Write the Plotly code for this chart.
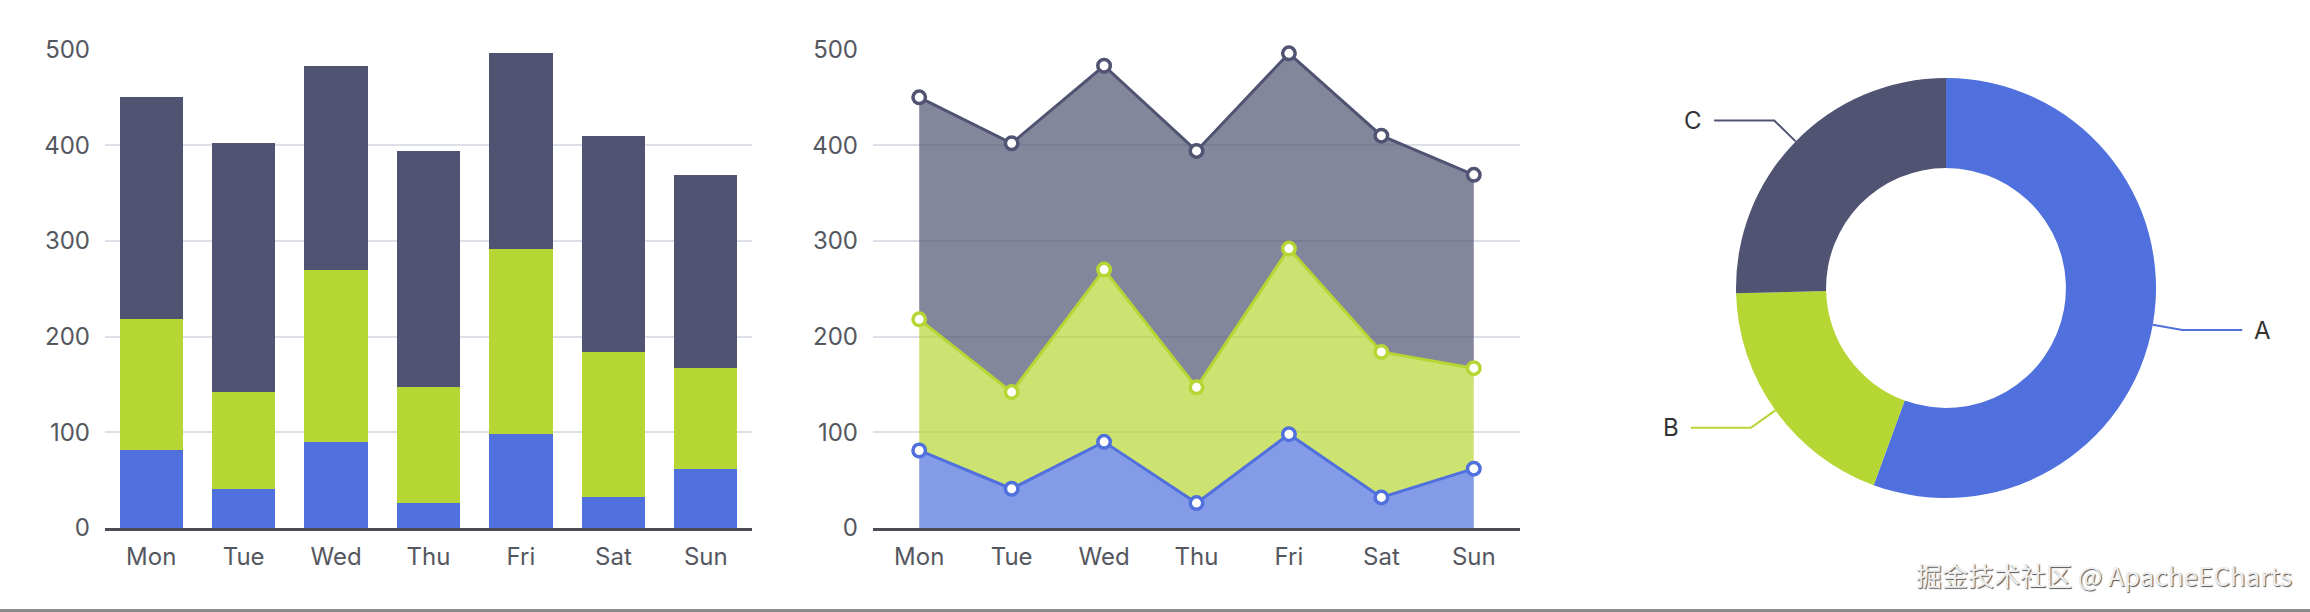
import math
import plotly.graph_objects as go

# ---------------- data ----------------
days = ["Mon", "Tue", "Wed", "Thu", "Fri", "Sat", "Sun"]
series_a = [81, 41, 90, 26, 98, 32, 62]
series_b = [137, 101, 180, 121, 194, 152, 105]
series_c = [232, 260, 213, 247, 204, 226, 202]
y_ticks = [0, 100, 200, 300, 400, 500]

pie_labels = ["A", "B", "C"]
pie_values = [556, 190, 254]

colors = ["#5070dd", "#b6d634", "#505372"]
area_fill = ["rgba(80,112,221,0.7)", "rgba(182,214,52,0.7)", "rgba(80,83,114,0.7)"]

W, H = 2310, 612

# layout geometry (pixels)
LEFT_X = (105, 752)
MID_X = (873, 1520)
Y_PX = (49.5, 528)          # top (500) , bottom (0)
PIE_C = (1946, 288)
PIE_R = 210
PIE_HOLE = 0.571

def px_x(x):
    return x / W

def px_y(y):
    return 1 - y / H

fig = go.Figure()

series = [("A", series_a), ("B", series_b), ("C", series_c)]

# stacked bars
for i, (name, vals) in enumerate(series):
    fig.add_trace(go.Bar(
        x=days, y=vals, name=name, xaxis="x", yaxis="y",
        marker=dict(color=colors[i], line=dict(width=0)),
        showlegend=False,
    ))

# stacked areas
for i, (name, vals) in enumerate(series):
    fig.add_trace(go.Scatter(
        x=days, y=vals, name=name, xaxis="x2", yaxis="y2",
        stackgroup="one", mode="lines+markers", cliponaxis=False,
        line=dict(color=colors[i], width=3),
        fillcolor=area_fill[i],
        marker=dict(symbol="circle", size=12.5, color="#ffffff",
                    line=dict(color=colors[i], width=3.5)),
        showlegend=False,
    ))

# donut
fig.add_trace(go.Pie(
    labels=pie_labels, values=pie_values, sort=False,
    direction="clockwise", rotation=0, hole=PIE_HOLE,
    marker=dict(colors=colors, line=dict(width=0)),
    textinfo="none", showlegend=False,
    domain=dict(x=[px_x(PIE_C[0] - PIE_R), px_x(PIE_C[0] + PIE_R)],
                y=[px_y(PIE_C[1] + PIE_R), px_y(PIE_C[1] - PIE_R)]),
))

# pie leader lines + labels, computed from the values
total = sum(pie_values)
shapes = []
annotations = []
cum = 0
for lab, val, col in zip(pie_labels, pie_values, colors):
    mid = (cum + val / 2) / total * 2 * math.pi
    cum += val
    dx, dy = math.sin(mid), -math.cos(mid)
    x0, y0 = PIE_C[0] + PIE_R * dx, PIE_C[1] + PIE_R * dy
    x1, y1 = x0 + 30 * dx, y0 + 30 * dy
    side = 1 if dx >= 0 else -1
    x2, y2 = x1 + 60 * side, y1
    path = "M {} {} L {} {} L {} {}".format(px_x(x0), px_y(y0), px_x(x1), px_y(y1), px_x(x2), px_y(y2))
    shapes.append(dict(type="path", path=path, xref="paper", yref="paper",
                       line=dict(color=col, width=2)))
    annotations.append(dict(
        text=lab, x=px_x(x2 + 10 * side), y=px_y(y2), xref="paper", yref="paper",
        xanchor="left" if side > 0 else "right", yanchor="middle", showarrow=False,
        font=dict(family="Inter, Roboto, sans-serif", size=24, color="#333333"),
    ))

# watermark
annotations.append(dict(
    text="掘金技术社区 @ ApacheECharts", x=px_x(2294), y=px_y(574),
    xref="paper", yref="paper", xanchor="right", yanchor="middle", showarrow=False,
    font=dict(family="Noto Sans CJK SC", size=26, color="#eeeeee",
              shadow="1px 1px 1px #555555"),
))

# bottom border line
shapes.append(dict(type="line", xref="paper", yref="paper", x0=0, x1=1,
                   y0=px_y(610.5), y1=px_y(610.5),
                   line=dict(color="#8c8c8c", width=3)))

tick_font = dict(family="Inter, Roboto, sans-serif", size=24, color="#55575f")
ydomain = [px_y(Y_PX[1]), px_y(Y_PX[0])]

def xaxis_cfg(dom):
    return dict(domain=[px_x(dom[0]), px_x(dom[1])], type="category",
                range=[-0.5, len(days) - 0.5],
                showline=True, linecolor="#4b4d56", linewidth=2.5,
                showgrid=False, ticks="", tickfont=tick_font,
                ticklabelstandoff=5, zeroline=False, fixedrange=True,
                automargin=False)

def yaxis_cfg(anchor):
    return dict(domain=ydomain, range=[0, 500], tickvals=y_ticks,
                showline=False, showgrid=True, gridcolor="#dcdfe5", gridwidth=1.5,
                zeroline=False, ticks="", tickfont=tick_font,
                ticklabelstandoff=14, anchor=anchor, automargin=False)

fig.update_layout(
    width=W, height=H,
    margin=dict(l=0, r=0, t=0, b=0),
    paper_bgcolor="#ffffff", plot_bgcolor="rgba(0,0,0,0)",
    barmode="stack", bargap=0.315,
    xaxis=dict(xaxis_cfg(LEFT_X), anchor="y"),
    yaxis=yaxis_cfg("x"),
    xaxis2=dict(xaxis_cfg(MID_X), anchor="y2"),
    yaxis2=yaxis_cfg("x2"),
    shapes=shapes,
    annotations=annotations,
    showlegend=False,
)

fig.write_html("out.html",
               config={"displayModeBar": False},
               post_script="document.body.style.margin='0px';document.body.style.overflow='hidden';")
